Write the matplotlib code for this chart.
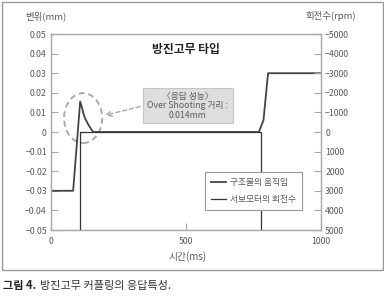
import matplotlib.pyplot as plt
from matplotlib.patches import Ellipse, Rectangle
from matplotlib.lines import Line2D

plt.rcParams['font.family'] = ['Noto Sans CJK KR', 'DejaVu Sans']

# structure displacement (mm)
t_disp = [0, 82, 108, 114, 120, 126, 139, 151, 157, 770, 787, 804, 1000]
disp = [-0.03, -0.03, 0.0155, 0.0129, 0.0095, 0.0070, 0.0036, 0.001, 0.0, 0.0, 0.0061, 0.030, 0.030]

# servo motor speed (rpm), spikes run off the scale
t_rpm = [108, 108, 777, 777]
rpm = [9000, 0, 0, 9000]

y_ticks = [0.05, 0.04, 0.03, 0.02, 0.01, 0, -0.01, -0.02, -0.03, -0.04, -0.05]
y_labels = ['0.05', '0.04', '0.03', '0.02', '0.01', '0', '\u22120.01', '\u22120.02',
            '\u22120.03', '\u22120.04', '\u22120.05']
rpm_ticks = [-5000, -4000, -3000, -2000, -1000, 0, 1000, 2000, 3000, 4000, 5000]
rpm_labels = ['\u22125000', '\u22124000', '\u22123000', '\u22122000', '\u22121000', '0',
              '1000', '2000', '3000', '4000', '5000']
x_ticks = [0, 500, 1000]

txt = '#5a5a5a'
spine = '#aaaaaa'

fig = plt.figure(figsize=(3.84, 2.98), dpi=100)
ax = fig.add_axes([51/384, 1-230/298, 270/384, 196/298])
ax2 = ax.twinx()

# outer frame
fig.patches.append(Rectangle((2/384, 1-270/298), 381/384, 268/298, transform=fig.transFigure,
                             fill=False, edgecolor='#999999', lw=1))

l1, = ax.plot(t_disp, disp, color='#444444', lw=1.3)
l2, = ax2.plot(t_rpm, rpm, color='#333333', lw=0.9)

ax.set_xlim(0, 1000)
ax.set_ylim(-0.05, 0.05)
ax2.set_ylim(5000, -5000)

ax.set_yticks(y_ticks)
ax.set_yticklabels(y_labels)
ax2.set_yticks(rpm_ticks)
ax2.set_yticklabels(rpm_labels)
ax.set_xticks(x_ticks)
ax.set_xticklabels([str(v) for v in x_ticks])

for a in (ax, ax2):
    for s in a.spines.values():
        s.set_color(spine)
        s.set_linewidth(0.9)
    a.tick_params(direction='in', length=5, width=0.8, color=spine, labelsize=6.3,
                  labelcolor=txt, pad=3)
ax.tick_params(axis='x', pad=5)

fig.text(25/384, 1-16/298, '변위(mm)', fontsize=6.8, color=txt, va='center')
fig.text(305/384, 1-16/298, '회전수(rpm)', fontsize=6.8, color=txt, va='center')
fig.text(188/384, 1-257/298, '시간(ms)', fontsize=7, color=txt, ha='center', va='center')

ax.text(500, 0.042, '방진고무 타입', fontsize=8.5, fontweight='bold', color='#222222',
        ha='center', va='center')

# overshoot highlight
ax.add_patch(Ellipse((119, 0.0071), 141, 0.0255, fill=False, edgecolor='#aaaaaa',
                     lw=1.4, ls=(0, (3, 2))))
ax.annotate('', xy=(190, 0.0082), xytext=(340, 0.0133),
            arrowprops=dict(arrowstyle='->', color='#aaaaaa', lw=1, ls=(0, (3, 2))))
ax.add_patch(Rectangle((342, 0.0044), 331, 0.0179, facecolor='#dedede',
                       edgecolor='#c4c4c4', lw=0.8, zorder=3))
ax.text(507, 0.0182, '〈응답 성능〉', fontsize=6.3, color=txt, ha='center', va='center', zorder=4)
ax.text(507, 0.0133, 'Over Shooting 거리 :', fontsize=6.3, color=txt, ha='center', va='center', zorder=4)
ax.text(507, 0.0082, '0.014mm', fontsize=6.3, color=txt, ha='center', va='center', zorder=4)

h1 = Line2D([], [], color='#444444', lw=1.3)
h2 = Line2D([], [], color='#333333', lw=0.9)
leg = ax2.legend([h1, h2], ['구조물의 움직임', '서보모터의 회전수'], loc='lower right',
                 bbox_to_anchor=(1 - 19/270, 20/196), borderaxespad=0, fontsize=6.3,
                 frameon=True, fancybox=False, edgecolor='#999999', handlelength=1.8,
                 handletextpad=0.4, labelspacing=0.9, borderpad=0.7, framealpha=1)
leg.get_frame().set_linewidth(0.8)
for tx in leg.get_texts():
    tx.set_color(txt)

fig.text(3/384, 1-286/298, '그림 4.', fontsize=8, fontweight='bold', color='#222222', va='center')
fig.text(40/384, 1-286/298, '방진고무 커플링의 응답특성.', fontsize=8, color='#333333', va='center')

fig.savefig('out.png', dpi=100)
